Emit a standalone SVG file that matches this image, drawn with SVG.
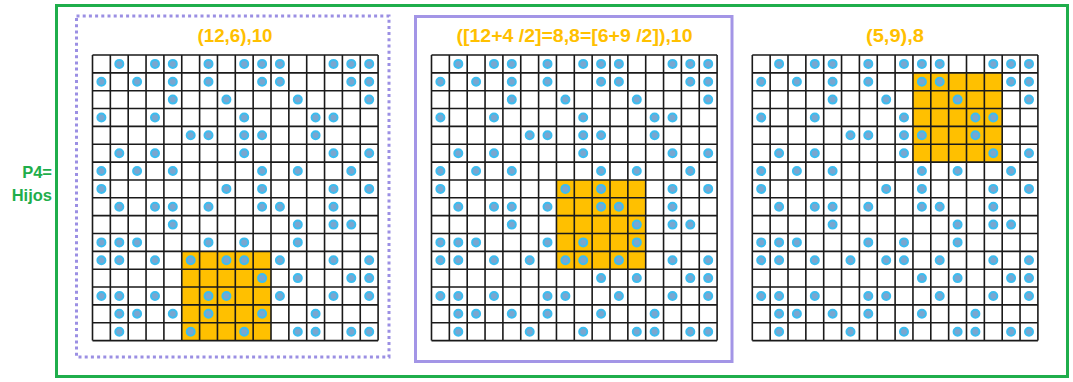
<svg xmlns="http://www.w3.org/2000/svg" xmlns:xlink="http://www.w3.org/1999/xlink" width="1073" height="382" viewBox="0 0 1073 382">
<style>
.title{font-family:"Liberation Sans",Arial,sans-serif;font-weight:bold;font-size:18px;fill:#FFC000;text-anchor:middle}
.lbl{font-family:"Liberation Sans",Arial,sans-serif;font-weight:bold;font-size:16.5px;fill:#1fae4b;text-anchor:end}
.grid{fill:none;stroke:#1a1a1a;stroke-width:1.6}
.d{fill:#7aa6cf;stroke:#3cbdf0;stroke-width:2}
.hl{fill:#FFC000}
</style>
<defs>
<path id="lines" class="grid" d="M0 0V285.6M17.85 0V285.6M35.7 0V285.6M53.55 0V285.6M71.4 0V285.6M89.25 0V285.6M107.1 0V285.6M124.95 0V285.6M142.8 0V285.6M160.65 0V285.6M178.5 0V285.6M196.35 0V285.6M214.2 0V285.6M232.05 0V285.6M249.9 0V285.6M267.75 0V285.6M285.6 0V285.6M0 0H285.6M0 17.85H285.6M0 35.7H285.6M0 53.55H285.6M0 71.4H285.6M0 89.25H285.6M0 107.1H285.6M0 124.95H285.6M0 142.8H285.6M0 160.65H285.6M0 178.5H285.6M0 196.35H285.6M0 214.2H285.6M0 232.05H285.6M0 249.9H285.6M0 267.75H285.6M0 285.6H285.6"/>
<g id="dots">
<!-- r0 -->
<circle class="d" r="4" cx="26.8" cy="8.9"/><circle class="d" r="4" cx="62.5" cy="8.9"/><circle class="d" r="4" cx="80.3" cy="8.9"/><circle class="d" r="4" cx="116" cy="8.9"/><circle class="d" r="4" cx="151.7" cy="8.9"/><circle class="d" r="4" cx="169.6" cy="8.9"/><circle class="d" r="4" cx="187.4" cy="8.9"/><circle class="d" r="4" cx="241" cy="8.9"/><circle class="d" r="4" cx="258.8" cy="8.9"/><circle class="d" r="4" cx="276.7" cy="8.9"/>
<!-- r1 -->
<circle class="d" r="4" cx="8.9" cy="26.8"/><circle class="d" r="4" cx="44.6" cy="26.8"/><circle class="d" r="4" cx="80.3" cy="26.8"/><circle class="d" r="4" cx="116" cy="26.8"/><circle class="d" r="4" cx="169.6" cy="26.8"/><circle class="d" r="4" cx="187.4" cy="26.8"/><circle class="d" r="4" cx="258.8" cy="26.8"/><circle class="d" r="4" cx="276.7" cy="26.8"/>
<!-- r2 -->
<circle class="d" r="4" cx="80.3" cy="44.6"/><circle class="d" r="4" cx="133.9" cy="44.6"/><circle class="d" r="4" cx="205.3" cy="44.6"/><circle class="d" r="4" cx="276.7" cy="44.6"/>
<!-- r3 -->
<circle class="d" r="4" cx="8.9" cy="62.5"/><circle class="d" r="4" cx="62.5" cy="62.5"/><circle class="d" r="4" cx="151.7" cy="62.5"/><circle class="d" r="4" cx="223.1" cy="62.5"/><circle class="d" r="4" cx="241" cy="62.5"/>
<!-- r4 -->
<circle class="d" r="4" cx="98.2" cy="80.3"/><circle class="d" r="4" cx="116" cy="80.3"/><circle class="d" r="4" cx="151.7" cy="80.3"/><circle class="d" r="4" cx="169.6" cy="80.3"/><circle class="d" r="4" cx="223.1" cy="80.3"/>
<!-- r5 -->
<circle class="d" r="4" cx="26.8" cy="98.2"/><circle class="d" r="4" cx="62.5" cy="98.2"/><circle class="d" r="4" cx="151.7" cy="98.2"/><circle class="d" r="4" cx="241" cy="98.2"/><circle class="d" r="4" cx="276.7" cy="98.2"/>
<!-- r6 -->
<circle class="d" r="4" cx="8.9" cy="116"/><circle class="d" r="4" cx="44.6" cy="116"/><circle class="d" r="4" cx="80.3" cy="116"/><circle class="d" r="4" cx="169.6" cy="116"/><circle class="d" r="4" cx="205.3" cy="116"/><circle class="d" r="4" cx="258.8" cy="116"/>
<!-- r7 -->
<circle class="d" r="4" cx="8.9" cy="133.9"/><circle class="d" r="4" cx="133.9" cy="133.9"/><circle class="d" r="4" cx="169.6" cy="133.9"/><circle class="d" r="4" cx="241" cy="133.9"/><circle class="d" r="4" cx="276.7" cy="133.9"/>
<!-- r8 -->
<circle class="d" r="4" cx="26.8" cy="151.7"/><circle class="d" r="4" cx="62.5" cy="151.7"/><circle class="d" r="4" cx="80.3" cy="151.7"/><circle class="d" r="4" cx="116" cy="151.7"/><circle class="d" r="4" cx="169.6" cy="151.7"/><circle class="d" r="4" cx="187.4" cy="151.7"/><circle class="d" r="4" cx="241" cy="151.7"/>
<!-- r9 -->
<circle class="d" r="4" cx="80.3" cy="169.6"/><circle class="d" r="4" cx="205.3" cy="169.6"/><circle class="d" r="4" cx="241" cy="169.6"/><circle class="d" r="4" cx="258.8" cy="169.6"/>
<!-- r10 -->
<circle class="d" r="4" cx="8.9" cy="187.4"/><circle class="d" r="4" cx="26.8" cy="187.4"/><circle class="d" r="4" cx="44.6" cy="187.4"/><circle class="d" r="4" cx="116" cy="187.4"/><circle class="d" r="4" cx="151.7" cy="187.4"/><circle class="d" r="4" cx="205.3" cy="187.4"/>
<!-- r11 -->
<circle class="d" r="4" cx="8.9" cy="205.3"/><circle class="d" r="4" cx="26.8" cy="205.3"/><circle class="d" r="4" cx="62.5" cy="205.3"/><circle class="d" r="4" cx="98.2" cy="205.3"/><circle class="d" r="4" cx="133.9" cy="205.3"/><circle class="d" r="4" cx="151.7" cy="205.3"/><circle class="d" r="4" cx="187.4" cy="205.3"/><circle class="d" r="4" cx="241" cy="205.3"/><circle class="d" r="4" cx="276.7" cy="205.3"/>
<!-- r12 -->
<circle class="d" r="4" cx="169.6" cy="223.1"/><circle class="d" r="4" cx="205.3" cy="223.1"/><circle class="d" r="4" cx="258.8" cy="223.1"/><circle class="d" r="4" cx="276.7" cy="223.1"/>
<!-- r13 -->
<circle class="d" r="4" cx="8.9" cy="241"/><circle class="d" r="4" cx="26.8" cy="241"/><circle class="d" r="4" cx="62.5" cy="241"/><circle class="d" r="4" cx="116" cy="241"/><circle class="d" r="4" cx="133.9" cy="241"/><circle class="d" r="4" cx="187.4" cy="241"/><circle class="d" r="4" cx="241" cy="241"/><circle class="d" r="4" cx="276.7" cy="241"/>
<!-- r14 -->
<circle class="d" r="4" cx="26.8" cy="258.8"/><circle class="d" r="4" cx="44.6" cy="258.8"/><circle class="d" r="4" cx="80.3" cy="258.8"/><circle class="d" r="4" cx="116" cy="258.8"/><circle class="d" r="4" cx="169.6" cy="258.8"/><circle class="d" r="4" cx="223.1" cy="258.8"/>
<!-- r15 -->
<circle class="d" r="4" cx="26.8" cy="276.7"/><circle class="d" r="4" cx="98.2" cy="276.7"/><circle class="d" r="4" cx="151.7" cy="276.7"/><circle class="d" r="4" cx="205.3" cy="276.7"/><circle class="d" r="4" cx="223.1" cy="276.7"/><circle class="d" r="4" cx="258.8" cy="276.7"/><circle class="d" r="4" cx="276.7" cy="276.7"/>
</g>
</defs>

<g id="frame">
<rect x="56.5" y="5.5" width="1011" height="371" fill="none" stroke="#1fae4b" stroke-width="3"/>
<text class="lbl" x="52" y="178">P4=</text>
<text class="lbl" x="52" y="201">Hijos</text>
</g>

<g id="grid1">
<rect x="76.5" y="16" width="312.5" height="341" fill="none" stroke="#9b8fe3" stroke-width="3" stroke-dasharray="3 3.2"/>
<text class="title" x="235" y="42" textLength="75" lengthAdjust="spacingAndGlyphs">(12,6),10</text>
<g transform="translate(92.5 55)">
<rect class="hl" x="89.25" y="196.35" width="89.25" height="89.25"/>
<use xlink:href="#lines"/>
<use xlink:href="#dots"/>
</g>
</g>

<g id="grid2">
<rect x="415.5" y="16.5" width="316.5" height="345" fill="none" stroke="#a395e6" stroke-width="3"/>
<text class="title" x="574.5" y="42" textLength="236" lengthAdjust="spacingAndGlyphs">([12+4 /2]=8,8=[6+9 /2]),10</text>
<g transform="translate(431.5 55)">
<rect class="hl" x="124.95" y="124.95" width="89.25" height="89.25"/>
<use xlink:href="#lines"/>
<use xlink:href="#dots"/>
</g>
</g>

<g id="grid3">
<text class="title" x="895" y="42" textLength="58" lengthAdjust="spacingAndGlyphs">(5,9),8</text>
<g transform="translate(752.3 55)">
<rect class="hl" x="160.65" y="17.85" width="89.25" height="89.25"/>
<use xlink:href="#lines"/>
<use xlink:href="#dots"/>
</g>
</g>

<g id="connectors"></g>
</svg>
